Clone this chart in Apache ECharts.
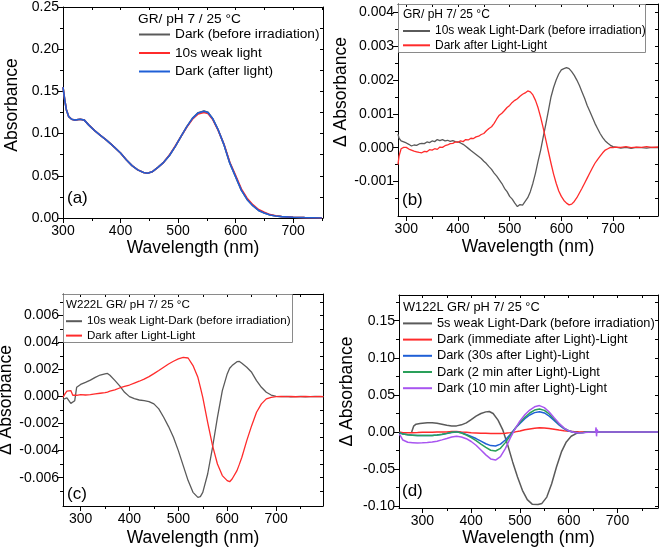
<!DOCTYPE html>
<html><head><meta charset="utf-8">
<script src="https://cdn.jsdelivr.net/npm/echarts@6/dist/echarts.min.js"></script>
<style>html,body{margin:0;padding:0;background:#fff}#c{width:661px;height:555px}</style>
</head><body><div id="c"></div>
<script>
// ---------- DATA ----------
// Panel (a)
const aWl = [300,303,306,310,315,320,330,337,345,355,365,375,385,400,410,420,430,440,447,455,465,475,485,495,505,515,525,535,545,552,560,570,580,590,600,610,620,630,640,650,660,670,680,700,720,750];
const aBefore = [0.155,0.140,0.128,0.120,0.117,0.116,0.117,0.116,0.110,0.1035,0.098,0.0925,0.0866,0.077,0.069,0.062,0.057,0.054,0.053,0.0547,0.060,0.066,0.074,0.0846,0.0965,0.108,0.118,0.1248,0.1268,0.1252,0.118,0.104,0.0866,0.065,0.049,0.033,0.022,0.0146,0.009,0.006,0.0035,0.0024,0.0016,0.0008,0.0004,0.0];
const aLight = [0.155,0.140,0.128,0.120,0.117,0.116,0.117,0.116,0.110,0.1035,0.098,0.0925,0.0866,0.077,0.069,0.062,0.057,0.054,0.053,0.0547,0.060,0.066,0.0745,0.085,0.0965,0.1075,0.117,0.1232,0.1250,0.1237,0.117,0.1035,0.087,0.066,0.0505,0.0345,0.0235,0.0158,0.010,0.0068,0.0040,0.0027,0.0018,0.0009,0.0004,0.0];
const aAfter = [0.155,0.140,0.128,0.120,0.117,0.116,0.117,0.116,0.110,0.1035,0.098,0.0925,0.0866,0.077,0.069,0.062,0.057,0.054,0.053,0.0547,0.060,0.066,0.074,0.0846,0.0965,0.108,0.118,0.1245,0.1265,0.125,0.118,0.104,0.0866,0.065,0.049,0.033,0.022,0.0146,0.009,0.006,0.0035,0.0024,0.0016,0.0008,0.0004,0.0];

// Panel (b)
const bWl = [284,286,290,295,300,305,310,315,320,325,330,335,340,345,350,355,360,365,370,375,380,385,390,395,400,405,410,415,420,425,430,435,440,445,450,455,460,465,470,475,480,485,490,495,500,505,510,515,520,525,530,535,540,545,550,555,560,565,570,575,580,585,590,595,600,605,610,615,620,625,630,635,640,645,650,655,660,665,670,675,680,685,690,695,700,705,715,725,735,745,755,765,775,787];
const bDark = [0.00040,0.00028,0.00020,0.00017,0.00014,0.00010,0.00005,0.00008,0.00007,0.00011,0.00013,0.00012,0.00017,0.00015,0.00020,0.00018,0.00024,0.00021,0.00024,0.00020,0.00022,0.00019,0.00021,0.00018,0.00017,0.00014,0.00010,0.00004,-0.00002,-0.00008,-0.00014,-0.00020,-0.00026,-0.00032,-0.00040,-0.00047,-0.00056,-0.00064,-0.00075,-0.00084,-0.00095,-0.00106,-0.00120,-0.00130,-0.00144,-0.00152,-0.00164,-0.00174,-0.00168,-0.00170,-0.00159,-0.00148,-0.00130,-0.00105,-0.00075,-0.00040,-0.00007,0.00032,0.00070,0.00110,0.00150,0.00178,0.00200,0.00218,0.00230,0.00234,0.00237,0.00234,0.00225,0.00214,0.00200,0.00184,0.00165,0.00146,0.00125,0.00108,0.00090,0.00072,0.00057,0.00042,0.00030,0.00020,0.00013,0.00007,0.00003,0.00002,-0.00001,0.00001,-0.00002,0.00001,0.00000,-0.00001,0.00001,0.00000];
const bLight = [-0.00050,-0.00025,-0.00003,0.00001,0.00001,-0.00004,-0.00007,-0.00010,-0.00012,-0.00014,-0.00015,-0.00011,-0.00012,-0.00006,-0.00007,-0.00003,-0.00005,0.00002,0.00001,0.00006,0.00008,0.00012,0.00013,0.00017,0.00016,0.00020,0.00018,0.00024,0.00023,0.00028,0.00027,0.00032,0.00034,0.00039,0.00042,0.00050,0.00057,0.00062,0.00072,0.00085,0.00096,0.00102,0.00110,0.00119,0.00125,0.00134,0.00140,0.00145,0.00152,0.00158,0.00162,0.00168,0.00165,0.00156,0.00140,0.00118,0.00090,0.00058,0.00023,-0.00012,-0.00046,-0.00078,-0.00105,-0.00128,-0.00144,-0.00156,-0.00164,-0.00169,-0.00167,-0.00159,-0.00148,-0.00134,-0.00120,-0.00105,-0.00090,-0.00075,-0.00060,-0.00046,-0.00035,-0.00025,-0.00015,-0.00007,-0.00003,0.00001,0.00000,0.00002,0.00001,0.00003,0.00000,0.00002,0.00001,0.00003,0.00001,0.00002];

// Panel (c)
const cWl = [264,268,272,276,280,284,288,292,296,300,310,320,330,340,350,355,360,370,380,390,400,410,420,430,440,450,460,470,480,490,500,510,520,530,540,545,550,560,570,580,590,600,605,610,620,625,630,640,650,660,670,680,690,700,710,720,730,740,750,760,770,780,790,797];
const cDark = [-0.0002,-0.0003,-0.0001,-0.0002,-0.0005,-0.0006,-0.0003,0.0007,0.0008,0.0009,0.00105,0.00122,0.00143,0.0016,0.00168,0.00172,0.00158,0.0012,0.0008,0.00032,0.0,-0.00015,-0.00025,-0.0003,-0.00037,-0.00054,-0.00091,-0.00153,-0.00222,-0.00301,-0.004,-0.00511,-0.00622,-0.00709,-0.00746,-0.00741,-0.00709,-0.00573,-0.00375,-0.00153,0.00044,0.00168,0.0021,0.0023,0.00259,0.0026,0.00247,0.00217,0.0018,0.00119,0.00069,0.00032,0.00012,0.00002,0.0,0.00002,-0.00001,0.0,0.00001,-0.00001,0.0,0.00001,0.0,0.0];
const cLight = [-0.00005,0.0002,0.0004,0.0003,0.00045,0.0001,0.0001,0.0001,0.00015,0.00015,0.00012,0.00015,0.0002,0.00025,0.0003,0.00034,0.0004,0.0005,0.00064,0.00075,0.00086,0.001,0.00114,0.0013,0.00148,0.0017,0.00193,0.00218,0.00242,0.00262,0.00279,0.00291,0.00286,0.0023,0.00143,0.0007,-0.00005,-0.0019,-0.00363,-0.00499,-0.00585,-0.00622,-0.0063,-0.0061,-0.00548,-0.005,-0.00449,-0.00326,-0.00215,-0.00116,-0.00054,-0.00017,-0.00005,0.0,0.00001,0.0,0.00001,-0.00001,0.0,0.00001,0.0,0.0,0.00001,0.0];

// Panel (d)
const dGrayWl = [278,282,287,295,310,320,330,340,350,360,370,380,390,400,410,420,430,437,445,455,465,475,485,495,505,515,525,537,545,555,565,575,585,595,605,615,625,640,700,783];
const dGray = [0,0.0077,0.0104,0.0113,0.0122,0.0122,0.0117,0.0104,0.009,0.0081,0.0081,0.0095,0.0122,0.0167,0.0212,0.0248,0.027,0.0275,0.0248,0.0158,0.0023,-0.018,-0.0405,-0.061,-0.0788,-0.0914,-0.0975,-0.098,-0.0965,-0.088,-0.07,-0.047,-0.027,-0.0135,-0.0059,-0.0023,-0.0009,0,0,0];
const dWl = [253,260,270,280,290,300,310,320,330,340,350,360,370,380,390,400,410,420,430,440,450,460,470,480,490,500,510,520,530,540,550,560,570,580,590,600,610,620,630,640,660,700,740,783];
const dImm = [0.000,-0.001,-0.001,-0.001,-0.0008,-0.0005,-0.0005,-0.0004,-0.0003,-0.0002,0.0,0.0005,0.0006,0.0,-0.0005,-0.001,-0.0014,-0.0018,-0.002,-0.0022,-0.0023,-0.0022,-0.0018,-0.001,0.0,0.0012,0.0028,0.004,0.005,0.0055,0.0052,0.0045,0.0035,0.0025,0.0016,0.001,0.0005,0.0001,0.0,0.0,0.0,0.0,0.0,0.0];
const d30s = [-0.001,-0.003,-0.004,-0.0045,-0.005,-0.005,-0.005,-0.0048,-0.0042,-0.0035,-0.0022,-0.0008,0.0,-0.0012,-0.0035,-0.0062,-0.009,-0.0125,-0.016,-0.0185,-0.019,-0.0165,-0.011,-0.0035,0.0045,0.0115,0.0178,0.0228,0.026,0.0272,0.0255,0.0212,0.0155,0.0095,0.0045,0.0012,-0.0005,-0.0012,-0.0008,-0.0003,0,0,0,0];
const d2min = [-0.001,-0.003,-0.004,-0.0045,-0.005,-0.005,-0.005,-0.0048,-0.0042,-0.0033,-0.002,-0.0006,0.0,-0.0015,-0.0042,-0.0078,-0.0118,-0.0165,-0.021,-0.0248,-0.0258,-0.0222,-0.0145,-0.0052,0.0045,0.0128,0.0198,0.0255,0.0295,0.031,0.029,0.0242,0.0175,0.0108,0.0052,0.0015,-0.0004,-0.0012,-0.0008,-0.0003,0,0,0,0];
const dPWl = [253,260,270,280,290,300,310,320,330,340,350,360,370,380,390,400,410,420,430,440,450,460,470,480,490,500,510,520,530,540,550,560,570,580,590,600,610,620,630,640,650,655,656,657,658,660,700,740,783];
const d10min = [-0.003,-0.011,-0.014,-0.0145,-0.015,-0.0148,-0.0142,-0.0135,-0.0125,-0.0108,-0.009,-0.007,-0.0058,-0.0068,-0.0092,-0.013,-0.018,-0.0245,-0.031,-0.0365,-0.038,-0.0335,-0.0225,-0.0085,0.004,0.0148,0.023,0.0295,0.0338,0.0355,0.0328,0.0268,0.019,0.0115,0.0055,0.0015,-0.0005,-0.0015,-0.001,-0.0004,0.0,0.0,0.006,-0.006,0.003,0.0,0.0,0.0,0.0];

// Tick values
const xMajor = [300,400,500,600,700];
const xMinor = [350,450,550,650,750];
const aYMajor = [0,0.05,0.10,0.15,0.20,0.25];
const aYMinor = [0.025,0.075,0.125,0.175,0.225];
const bYMajor = [-0.001,0,0.001,0.002,0.003,0.004];
const bYMinor = [-0.0015,-0.0005,0.0005,0.0015,0.0025,0.0035];
const cYMajor = [-0.006,-0.004,-0.002,0,0.002,0.004,0.006];
const cYMinor = [-0.007,-0.005,-0.003,-0.001,0.001,0.003,0.005,0.007];
const dYMajor = [-0.10,-0.05,0,0.05,0.10,0.15];
const dYMinor = [-0.075,-0.025,0.025,0.075,0.125,0.175];

// ---------- BUILD ----------
const FONT = '"Liberation Sans", Arial, Helvetica, sans-serif';
const C = {gray:'#5a5a5a', red:'#ff2b2b', blue:'#1f5fd6', green:'#2aa05a', purple:'#a855f0'};
const zip = (w, v) => w.map((x, i) => [x, v[i]]);
const grids = [], xAxes = [], yAxes = [], series = [], legends = [], graphics = [];

function panel(o) {
  const gi = grids.length;
  const g = {left:o.g[0], top:o.g[1], width:o.g[2], height:o.g[3], containLabel:false, outerBoundsMode:'none'};
  grids.push(Object.assign({}, g), Object.assign({}, g));
  const line = {show:true, onZero:false, lineStyle:{color:'#000', width:1}};
  const noLine = {show:false, onZero:false};
  const tk = (vals, inside, len) => ({show:true, inside:inside, length:len, customValues:vals, lineStyle:{color:'#000', width:1}});
  const xi = xAxes.length, yi = yAxes.length;
  xAxes.push({type:'value', gridIndex:gi, position:'bottom', min:o.x[0], max:o.x[1], splitLine:{show:false},
    axisLine:line, axisTick:tk(xMajor,false,5),
    axisLabel:{show:true, customValues:xMajor, color:'#000', fontSize:14, fontFamily:FONT, margin:6, formatter:v=>String(Math.round(v))},
    name:'Wavelength (nm)', nameLocation:'middle', nameGap:o.xGap,
    nameTextStyle:{color:'#000', fontSize:17.5, fontFamily:FONT}});
  xAxes.push({type:'value', gridIndex:gi, position:'top', min:o.x[0], max:o.x[1], splitLine:{show:false},
    axisLine:line, axisTick:tk(xMajor.concat(xMinor),true,3), axisLabel:{show:false}});
  xAxes.push({type:'value', gridIndex:gi+1, position:'bottom', min:o.x[0], max:o.x[1], splitLine:{show:false},
    axisLine:noLine, axisTick:tk(xMinor,false,3), axisLabel:{show:false}});
  yAxes.push({type:'value', gridIndex:gi, position:'left', min:o.y[0], max:o.y[1], splitLine:{show:false},
    axisLine:line, axisTick:tk(o.yMaj,false,5),
    axisLabel:{show:true, customValues:o.yLab, color:'#000', fontSize:14, fontFamily:FONT, margin:4, formatter:v=>v.toFixed(o.dec)},
    name:o.yName, nameLocation:'middle', nameGap:o.yGap,
    nameTextStyle:{color:'#000', fontSize:17.5, fontFamily:FONT, padding:[0,0,0,o.yPad]}});
  yAxes.push({type:'value', gridIndex:gi, position:'right', min:o.y[0], max:o.y[1], splitLine:{show:false},
    axisLine:line, axisTick:tk(o.yMaj.concat(o.yMin),true,3), axisLabel:{show:false}});
  yAxes.push({type:'value', gridIndex:gi+1, position:'left', min:o.y[0], max:o.y[1], splitLine:{show:false},
    axisLine:noLine, axisTick:tk(o.yMin,false,3), axisLabel:{show:false}});
  o.series.forEach(s => series.push({type:'line', name:s.name, xAxisIndex:xi, yAxisIndex:yi,
    data:zip(s.wl, s.v), symbol:'none', showSymbol:false, smooth:false,
    lineStyle:{color:s.c, width:o.lw}, itemStyle:{color:s.c}, emphasis:{disabled:true}}));
  legends.push({orient:'vertical', left:o.leg[0], top:o.leg[1], itemWidth:o.leg[2], itemHeight:2, itemGap:o.leg[3],
    icon:'rect', padding:0, data:o.series.map(s=>s.name), selectedMode:false,
    textStyle:{color:'#000', fontSize:o.leg[4], fontFamily:FONT}});
  graphics.push({type:'text', x:o.hdr[0], y:o.hdr[1], z:10,
    style:{text:o.hdr[2], fill:'#000', font:o.hdr[3]+'px '+FONT, textVerticalAlign:'middle', verticalAlign:'middle'}});
  graphics.push({type:'text', x:o.lab[0], y:o.lab[1], z:10,
    style:{text:o.lab[2], fill:'#000', font:'17px '+FONT, textVerticalAlign:'middle', verticalAlign:'middle'}});
  if (o.box) graphics.push({type:'rect', z:5, shape:{x:o.box[0], y:o.box[1], width:o.box[2], height:o.box[3]},
    style:{fill:'none', stroke:'#8a8a8a', lineWidth:1}});
}

panel({g:[63,7,260,211], x:[300,752], y:[0,0.25], yMaj:aYMajor, yMin:aYMinor, yLab:aYMajor, dec:2,
  yName:'Absorbance', xGap:20, yGap:42, yPad:15, lw:1.6,
  leg:[139,27.5,31,4.5,13.7], hdr:[138,19,'GR/ pH 7 / 25 °C',13.7], lab:[67,198,'(a)'],
  series:[{name:'Dark (before irradiation)', wl:aWl, v:aBefore, c:C.gray},
          {name:'10s weak light', wl:aWl, v:aLight, c:C.red},
          {name:'Dark (after light)', wl:aWl, v:aAfter, c:C.blue}]});
panel({g:[398,4,260,212], x:[284,787], y:[-0.00202,0.00425], yMaj:bYMajor, yMin:bYMinor, yLab:bYMajor, dec:3,
  yName:'Δ Absorbance', xGap:22, yGap:43, yPad:36, lw:1.3,
  leg:[403,25,27,2.3,12], hdr:[403,15,'GR/ pH 7/ 25 °C',12], lab:[402,200.5,'(b)'], box:[398.5,4.5,247,48],
  series:[{name:'10s weak Light-Dark (before irradiation)', wl:bWl, v:bDark, c:C.gray},
          {name:'Dark after Light-Light', wl:bWl, v:bLight, c:C.red}]});
panel({g:[63,294,260,212], x:[264,796], y:[-0.0081,0.0076], yMaj:cYMajor, yMin:cYMinor, yLab:cYMajor, dec:3,
  yName:'Δ Absorbance', xGap:23, yGap:45, yPad:0, lw:1.3,
  leg:[66,315.2,16,2.4,11.6], hdr:[66,305,'W222L GR/ pH 7/ 25 °C',11.6], lab:[67,494,'(c)'], box:[63.5,294.5,229,48],
  series:[{name:'10s weak Light-Dark (before irradiation)', wl:cWl, v:cDark, c:C.gray},
          {name:'Dark after Light-Light', wl:cWl, v:cLight, c:C.red}]});
panel({g:[399,295,259,213], x:[252,783], y:[-0.1027,0.1847], yMaj:dYMajor, yMin:dYMinor, yLab:dYMajor, dec:2,
  yName:'Δ Absorbance', xGap:17, yGap:43, yPad:20, lw:1.5,
  leg:[403,316.9,29,3.2,12.8], hdr:[403,307.3,'W122L GR/ pH 7/ 25 °C',12.8], lab:[402,491,'(d)'],
  series:[{name:'5s weak Light-Dark (before irradiation)', wl:dGrayWl, v:dGray, c:C.gray},
          {name:'Dark (immediate after Light)-Light', wl:dWl, v:dImm, c:C.red},
          {name:'Dark (30s after Light)-Light', wl:dWl, v:d30s, c:C.blue},
          {name:'Dark (2 min after Light)-Light', wl:dWl, v:d2min, c:C.green},
          {name:'Dark (10 min after Light)-Light', wl:dPWl, v:d10min, c:C.purple}]});

const chart = echarts.init(document.getElementById('c'), null, {renderer:'canvas'});
chart.setOption({
  animation:false, backgroundColor:'#fff', textStyle:{fontFamily:FONT},
  grid:grids, xAxis:xAxes, yAxis:yAxes, series:series, legend:legends, graphic:graphics
});
</script></body></html>
